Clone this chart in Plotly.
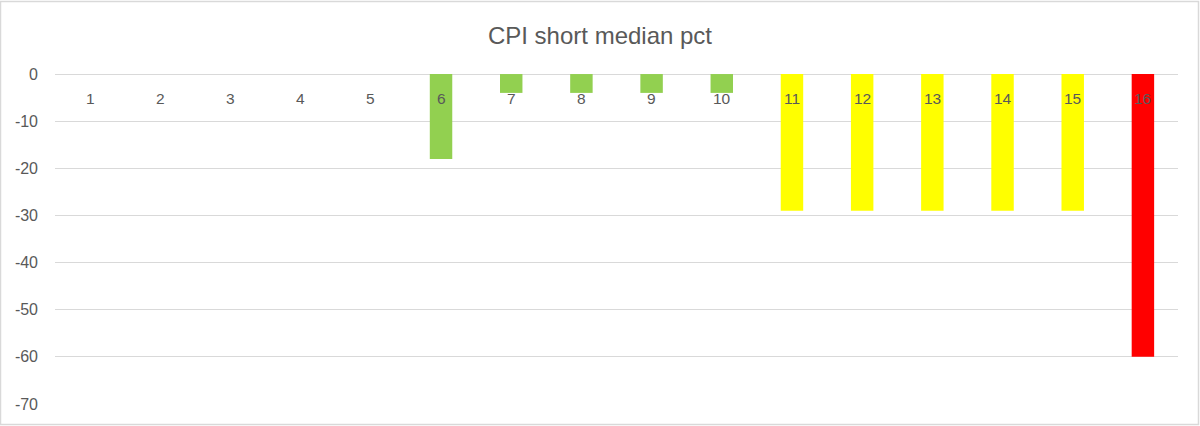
import plotly.graph_objects as go

categories = [str(i) for i in range(1, 17)]
values = [0, 0, 0, 0, 0, -18, -4, -4, -4, -4, -29, -29, -29, -29, -29, -60]
bar_colors = ["#92D050"] * 10 + ["#FFFF00"] * 5 + ["#FF0000"]
y_ticks = [0, -10, -20, -30, -40, -50, -60, -70]
y_tick_text = ["0", "-10", "-20", "-30", "-40", "-50", "-60", "-70"]

W, H = 1200, 426
ml, mr, mt, mb = 55, 22, 74, 22
pw, ph = W - ml - mr, H - mt - mb

fig = go.Figure(go.Bar(
    x=categories, y=values, marker=dict(color=bar_colors, line=dict(width=0)),
    width=0.32,
))

# category labels sit just under the zero line, drawn over the bars
# (on a category axis annotations are positioned by category index)
cat_labels = [dict(x=i, y=0, xref="x", yref="y", text=c, showarrow=False,
                   yanchor="middle", yshift=-24, font=dict(size=15.5, color="#595959"))
              for i, c in enumerate(categories)]

fig.update_layout(
    width=W, height=H,
    margin=dict(l=ml, r=mr, t=mt, b=mb, autoexpand=False),
    paper_bgcolor="white", plot_bgcolor="white",
    font=dict(family="Liberation Sans, Arial, sans-serif", color="#595959"),
    title=dict(text="CPI short median pct", x=0.5, xanchor="center", y=1 - 36 / H, yanchor="middle",
               font=dict(size=24, color="#595959")),
    showlegend=False,
    xaxis=dict(type="category", range=[-0.5, len(categories) - 0.5], showticklabels=False,
               showgrid=False, showline=False, ticks="", zeroline=False, automargin=False),
    yaxis=dict(range=[-70, 0.01], tickvals=y_ticks, ticktext=y_tick_text, showgrid=True,
               gridcolor="#d9d9d9", gridwidth=1,
               zeroline=True, zerolinecolor="#d9d9d9", zerolinewidth=1, showline=False,
               tickfont=dict(size=16, color="#595959"), ticklabelstandoff=16, automargin=False),
    annotations=cat_labels,
    shapes=[dict(type="rect", xref="paper", yref="paper",
                 x0=(0.5 - ml) / pw, x1=(W - 1.5 - ml) / pw,
                 y0=-(mb - 1.5) / ph, y1=1 + (mt - 1.5) / ph,
                 line=dict(color="#d9d9d9", width=1.5), layer="below")],
)

fig.write_html("out.html", config={"displayModeBar": False},
               post_script="document.body.style.margin='0';document.body.style.overflow='hidden';")
